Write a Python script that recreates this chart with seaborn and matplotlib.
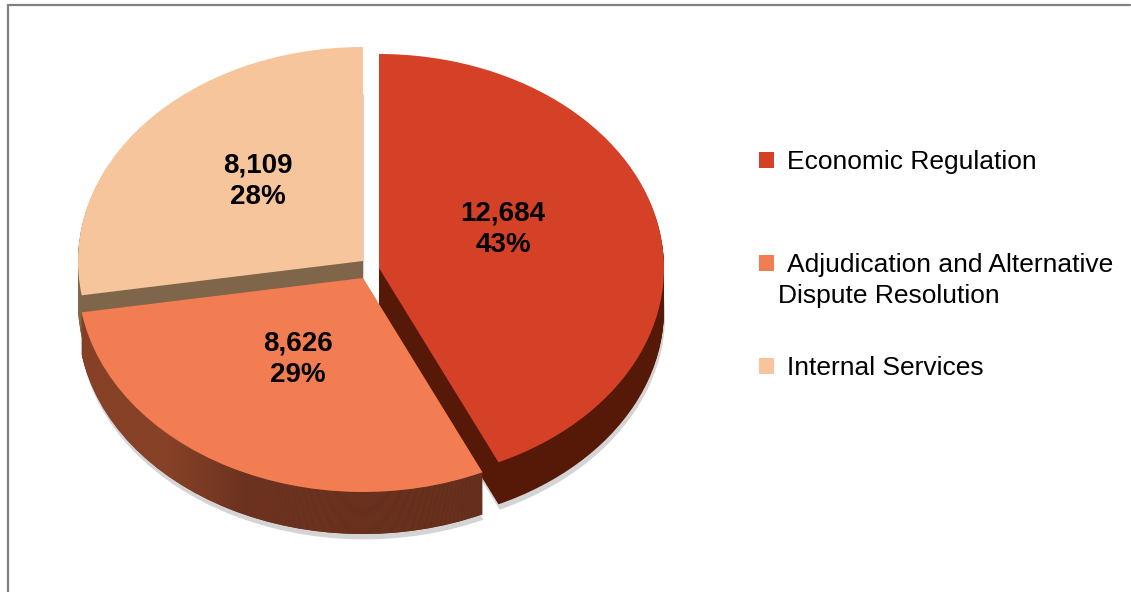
import numpy as np
import matplotlib
matplotlib.use("Agg")
import matplotlib.pyplot as plt
import seaborn as sns
from matplotlib.patches import Patch
from matplotlib.lines import Line2D
from matplotlib.colors import LinearSegmentedColormap

# ---- data ----
categories = ["Economic Regulation",
              "Adjudication and Alternative Dispute Resolution",
              "Internal Services"]
values = [12684, 8626, 8109]
top_colors = ["#D44127", "#F37D52", "#F6C59B"]
side_colors = ["#561807", "#7A3A24", "#7F6549"]

sns.set_theme(style="white")
plt.rcParams["font.family"] = ["Liberation Sans", "DejaVu Sans"]
plt.rcParams["text.color"] = "black"

W, H = 1131, 592
fig = plt.figure(figsize=(W / 100, H / 100), dpi=100)
ax = fig.add_axes([0, 0, 1, 1])

# pixel geometry of the projected pie
CX, CY = 363.0, 278.0      # centre of main (adjudication) slice, px
RX, RY = 285.0, 214.0      # projected radii, px
DEPTH = 42.0               # side thickness, px


def px2d(px, py):
    return (px - CX) / RX, (CY - py) / RY


centres_px = [(379.0, 268.0), (363.0, 278.0), (363.0, 261.0)]

total = float(sum(values))
fracs = [v / total for v in values]
starts = []
a = 90.0
for f in fracs:
    starts.append(a)
    a -= f * 360.0

xmin, xmax = -CX / RX, (W - CX) / RX
ymin, ymax = (CY - H) / RY, CY / RY

grad_cmap = LinearSegmentedColormap.from_list(
    "side", [(0.0, "#8F462A"), (0.22, "#8A4429"), (0.40, "#6A321F"), (1.0, "#622D1C")])
grad = np.linspace(0, 1, 256).reshape(1, -1)

draw_order = [2, 0, 1]
nlayers = 44
z = 1
for i in draw_order:
    cx, cy = px2d(*centres_px[i])
    depth = DEPTH / RY
    w, _ = ax.pie([fracs[i]], startangle=starts[i], counterclock=False, normalize=False,
                  center=(cx + 0.004, cy - depth - 0.025), colors=["#d4d4d4"],
                  wedgeprops=dict(linewidth=0))
    w[0].set_zorder(z); z += 1
    for k in range(nlayers, 0, -1):
        dy = depth * k / nlayers
        w, _ = ax.pie([fracs[i]], startangle=starts[i], counterclock=False,
                      normalize=False, center=(cx, cy - dy), colors=[side_colors[i]],
                      wedgeprops=dict(linewidth=0))
        w[0].set_zorder(z); z += 1
        if i == 1:
            im = ax.imshow(grad, cmap=grad_cmap, aspect="auto",
                           extent=(cx - 1.0, cx + 0.45, cy - depth - 1.0, cy + 0.2),
                           zorder=z)
            im.set_clip_path(w[0])
            z += 1
    w, _ = ax.pie([fracs[i]], startangle=starts[i], counterclock=False, normalize=False,
                  center=(cx, cy), colors=[top_colors[i]], wedgeprops=dict(linewidth=0))
    w[0].set_zorder(z); z += 1

# value labels
label_px = [(503, 229), (298, 359), (258, 181)]
for i, (lx, ly) in enumerate(label_px):
    x, y = px2d(lx, ly)
    pct = int(round(values[i] / total * 100))
    ax.text(x, y, f"{values[i]:,}\n{pct}%", ha="center", va="center",
            fontsize=20, fontweight="bold", color="black", linespacing=1.25,
            zorder=z + 5)

ax.set_aspect("auto")
ax.set_xlim(xmin, xmax)
ax.set_ylim(ymin, ymax)
ax.axis("off")

# legend (one entry per category)
legend_rows = [("Economic Regulation", 162),
               ("Adjudication and Alternative", 265),
               ("Internal Services", 368)]
for i, (lab, yy) in enumerate(legend_rows):
    fig.legend(handles=[Patch(facecolor=top_colors[i], edgecolor="none")],
               labels=[lab], loc="center left",
               bbox_to_anchor=(759 / W, 1 - yy / H), labelcolor="black",
               frameon=False, fontsize=19, handlelength=0.55, handleheight=0.55,
               handletextpad=0.5, borderpad=0, borderaxespad=0)
fig.text(778 / W, 1 - 296 / H, "Dispute Resolution", fontsize=19,
         ha="left", va="center", color="black")

# outer frame (top and left edges visible)
fig.add_artist(Line2D([8 / W, 8 / W], [0, 1 - 5 / H], color="#808080", lw=1.6,
                      transform=fig.transFigure))
fig.add_artist(Line2D([8 / W, 1130 / W], [1 - 5 / H, 1 - 5 / H], color="#808080",
                      lw=1.6, transform=fig.transFigure))

fig.savefig("out.png", dpi=100, facecolor="white")
